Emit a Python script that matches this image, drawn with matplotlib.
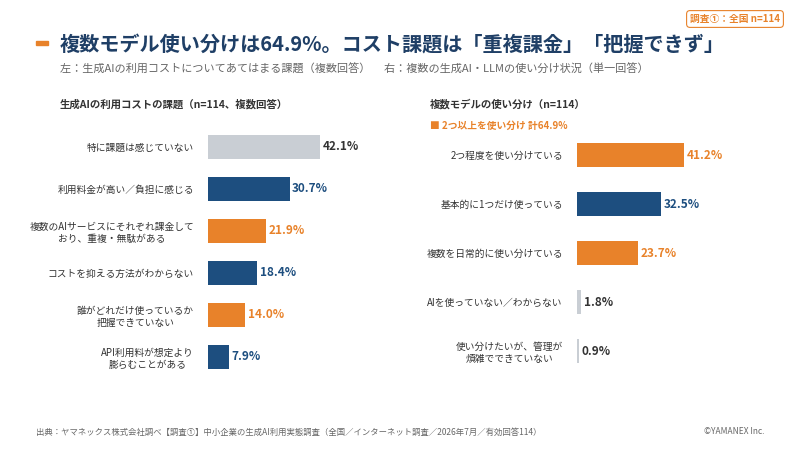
import matplotlib.pyplot as plt

plt.rcParams['font.family'] = ['Noto Sans CJK JP', 'DejaVu Sans']

NAVY = '#1d4e7f'
ORANGE = '#e8822a'
GRAY = '#c9ced4'
DARK = '#333333'

left_labels = ['特に課題は感じていない', '利用料金が高い／負担に感じる',
               '複数のAIサービスにそれぞれ課金して\nおり、重複・無駄がある',
               'コストを抑える方法がわからない',
               '誰がどれだけ使っているか\n把握できていない',
               'API利用料が想定より\n膨らむことがある']
left_values = [42.1, 30.7, 21.9, 18.4, 14.0, 7.9]
left_colors = [GRAY, NAVY, ORANGE, NAVY, ORANGE, NAVY]

right_labels = ['2つ程度を使い分けている', '基本的に1つだけ使っている',
                '複数を日常的に使い分けている', 'AIを使っていない／わからない',
                '使い分けたいが、管理が\n煩雑でできていない']
right_values = [41.2, 32.5, 23.7, 1.8, 0.9]
right_colors = [ORANGE, NAVY, ORANGE, GRAY, GRAY]

fig = plt.figure(figsize=(8, 4.5), dpi=100)


def draw(ax, labels, values, colors, height):
    ys = range(len(values))
    ax.barh(ys, values, color=colors, height=height)
    for y, v, c in zip(ys, values, colors):
        tc = DARK if c == GRAY else c
        ax.text(v + 1, y, f'{v:.1f}%', va='center', ha='left',
                fontsize=8.5, fontweight='bold', color=tc)
    ax.set_yticks(list(ys))
    ax.set_yticklabels(labels, fontsize=7, color=DARK, multialignment='center')
    ax.set_ylim(len(values) - 0.5, -0.5)
    ax.set_xlim(0, 50)
    ax.tick_params(length=0, pad=10)
    ax.set_xticks([])
    for s in ax.spines.values():
        s.set_visible(False)


axl = fig.add_axes([0.26, 0.16, 0.166, 0.56])
draw(axl, left_labels, left_values, left_colors, 0.57)
axr = fig.add_axes([0.721, 0.165, 0.1625, 0.545])
draw(axr, right_labels, right_values, right_colors, 0.5)

# title area
fig.patches.append(plt.Rectangle((36 / 800, 1 - 45 / 450), 12 / 800, 4 / 450,
                                 transform=fig.transFigure, color=ORANGE))
fig.text(60 / 800, 1 - 45 / 450, '複数モデル使い分けは64.9%。コスト課題は「重複課金」「把握できず」',
         fontsize=14.5, fontweight='bold', color='#1f3f66', va='center')
fig.text(60 / 800, 1 - 69 / 450,
         '左：生成AIの利用コストについてあてはまる課題（複数回答）　 右：複数の生成AI・LLMの使い分け状況（単一回答）',
         fontsize=8, color='#666666', va='center')
fig.text(735 / 800, 1 - 19 / 450, '調査①：全国 n=114', fontsize=7, color=ORANGE,
         fontweight='bold', ha='center', va='center',
         bbox=dict(boxstyle='round,pad=0.35', fc='white', ec=ORANGE, lw=0.8))
fig.text(60 / 800, 1 - 104 / 450, '生成AIの利用コストの課題（n=114、複数回答）',
         fontsize=7.5, fontweight='bold', color=DARK, va='center')
fig.text(430 / 800, 1 - 104 / 450, '複数モデルの使い分け（n=114）',
         fontsize=7.5, fontweight='bold', color=DARK, va='center')
fig.text(430 / 800, 1 - 126 / 450, '■ 2つ以上を使い分け 計64.9%',
         fontsize=7, fontweight='bold', color=ORANGE, va='center')
fig.text(36 / 800, 1 - 432 / 450,
         '出典：ヤマネックス株式会社調べ【調査①】中小企業の生成AI利用実態調査（全国／インターネット調査／2026年7月／有効回答114）',
         fontsize=6, color='#666666', va='center')
fig.text(764 / 800, 1 - 432 / 450, '©YAMANEX Inc.', fontsize=6, color='#666666',
         ha='right', va='center')

fig.savefig('out.png', dpi=100, facecolor='white')
